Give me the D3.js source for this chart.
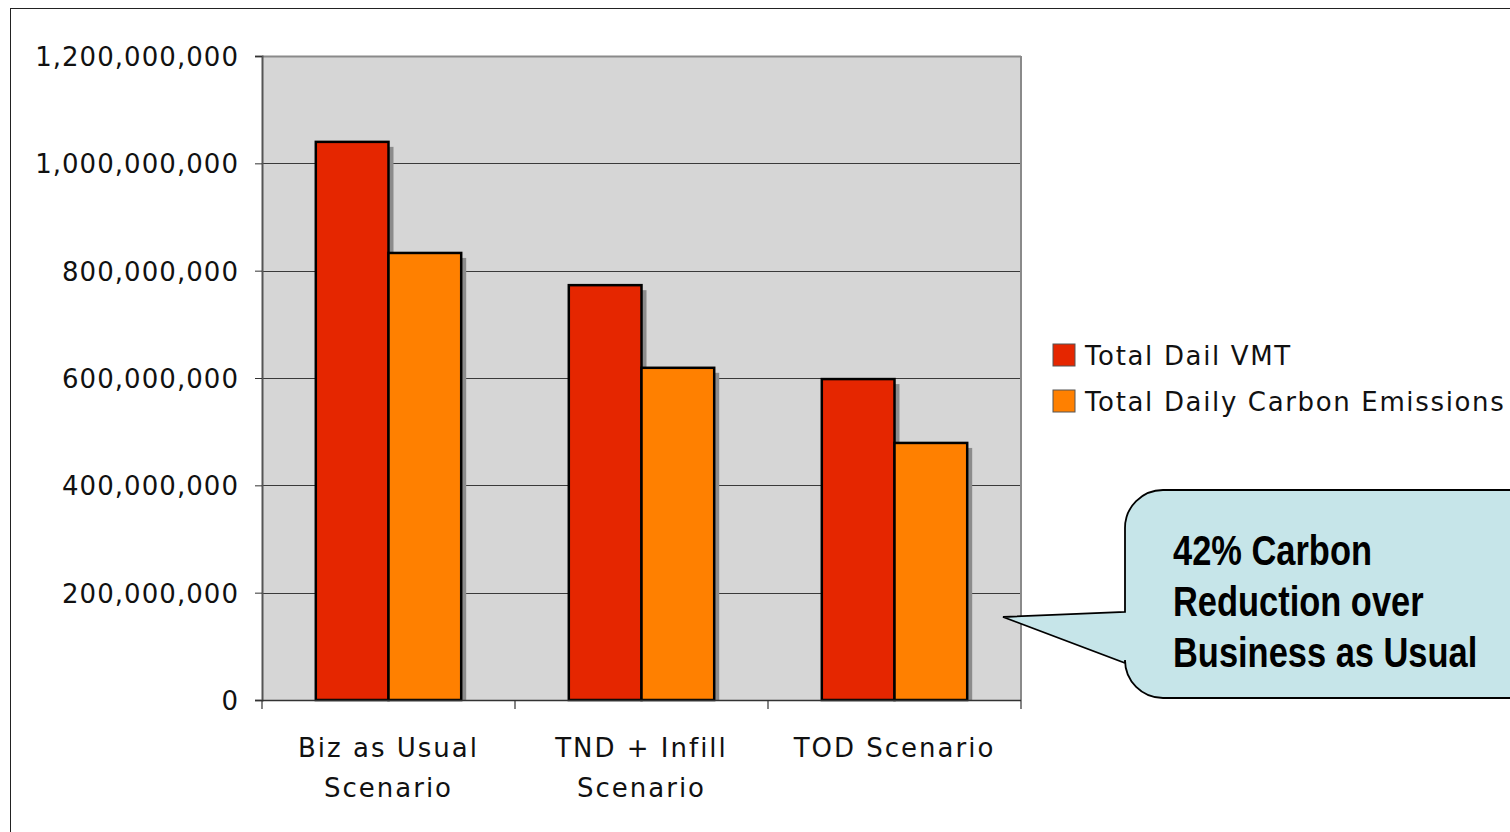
<!DOCTYPE html>
<html>
<head>
<meta charset="utf-8">
<script src="https://cdn.jsdelivr.net/npm/d3@7"></script>
<style>
  html, body { margin: 0; padding: 0; background: #fff; }
  svg { display: block; }
</style>
</head>
<body>
<svg id="chart" width="1510" height="832"></svg>
<script>
// Scenario categories and the two series per scenario
const categories = [["Biz as Usual", "Scenario"], ["TND + Infill", "Scenario"], ["TOD Scenario"]];
const seriesNames = ["Total Dail VMT", "Total Daily Carbon Emissions"];
const dailyVMT = [1040000000, 773000000, 598000000];
const dailyCarbon = [833000000, 619000000, 479000000];
const yTicks = [0, 200000000, 400000000, 600000000, 800000000, 1000000000, 1200000000];
const calloutLines = ["42% Carbon", "Reduction over", "Business as Usual"];

const seriesColors = ["#e52600", "#ff8000"];
const svg = d3.select("#chart");
const W = 1510, H = 832;
const labelFont = "DejaVu Sans, Verdana, sans-serif";

// Outer frame
svg.append("rect").attr("x", 10.5).attr("y", 8.5).attr("width", W + 10).attr("height", H + 10)
  .attr("fill", "#fff").attr("stroke", "#222").attr("stroke-width", 1);

const plot = { left: 262, right: 1021, top: 56, bottom: 700 };

const y = d3.scaleLinear().domain([0, 1200000000]).range([plot.bottom, plot.top]);
const x0 = d3.scaleBand().domain(d3.range(categories.length)).range([plot.left, plot.right]).padding(0);
const x1 = d3.scaleBand().domain(d3.range(seriesNames.length)).range([0, x0.bandwidth()])
  .paddingInner(0).paddingOuter(0.74);

// Plot background
svg.append("rect").attr("x", plot.left).attr("y", plot.top)
  .attr("width", plot.right - plot.left).attr("height", plot.bottom - plot.top)
  .attr("fill", "#d6d6d6");

// Gridlines
svg.append("g").selectAll("line").data(yTicks.filter(d => d > 0)).join("line")
  .attr("x1", plot.left).attr("x2", plot.right)
  .attr("y1", d => Math.round(y(d)) + 0.5).attr("y2", d => Math.round(y(d)) + 0.5)
  .attr("stroke", d => d === 1200000000 ? "#8a8a8a" : "#3a3a3a")
  .attr("stroke-width", d => d === 1200000000 ? 2 : 1.2);

// Right border of plot area
svg.append("line").attr("x1", plot.right).attr("x2", plot.right)
  .attr("y1", plot.top).attr("y2", plot.bottom)
  .attr("stroke", "#8a8a8a").attr("stroke-width", 2);

// Bars with drop shadows
const rows = categories.map((c, i) => [dailyVMT[i], dailyCarbon[i]]);
const groups = svg.append("g").selectAll("g").data(rows).join("g")
  .attr("transform", (d, i) => `translate(${x0(i)},0)`);

groups.selectAll("rect.shadow").data(d => d).join("rect")
  .attr("class", "shadow")
  .attr("x", (d, j) => x1(j) + 5).attr("y", d => y(d) + 5)
  .attr("width", x1.bandwidth()).attr("height", d => plot.bottom - y(d) - 5)
  .attr("fill", "#8c8c8c");

groups.selectAll("rect.bar").data(d => d).join("rect")
  .attr("class", "bar")
  .attr("x", (d, j) => x1(j)).attr("y", d => y(d))
  .attr("width", x1.bandwidth()).attr("height", d => plot.bottom - y(d))
  .attr("fill", (d, j) => seriesColors[j])
  .attr("stroke", "#000").attr("stroke-width", 2.5);

// Y axis
const fmt = d3.format(",");
const yAxis = svg.append("g").attr("transform", `translate(${plot.left},0)`)
  .call(d3.axisLeft(y).tickValues(yTicks).tickFormat(fmt).tickSize(7).tickPadding(16));
yAxis.select(".domain").attr("stroke", "#555").attr("stroke-width", 2);
yAxis.selectAll(".tick line").attr("stroke", "#333");
yAxis.selectAll(".tick text")
  .attr("font-family", labelFont).attr("font-size", 26)
  .attr("letter-spacing", "1.05px").attr("fill", "#111").attr("dy", "0.36em");

// X axis line and category boundary ticks
const bounds = d3.range(categories.length + 1).map(i => i < categories.length ? x0(i) : plot.right);
svg.append("line").attr("x1", plot.left).attr("x2", plot.right)
  .attr("y1", plot.bottom + 0.5).attr("y2", plot.bottom + 0.5)
  .attr("stroke", "#333").attr("stroke-width", 1.5);
svg.append("g").selectAll("line").data(bounds).join("line")
  .attr("x1", d => d).attr("x2", d => d)
  .attr("y1", plot.bottom).attr("y2", plot.bottom + 9)
  .attr("stroke", "#333").attr("stroke-width", 1.2);

// Category labels
const catText = svg.append("g").selectAll("text").data(categories).join("text")
  .attr("x", (d, i) => x0(i) + x0.bandwidth() / 2)
  .attr("y", 757)
  .attr("text-anchor", "middle")
  .attr("font-family", labelFont).attr("font-size", 26)
  .attr("letter-spacing", "2px").attr("fill", "#111");
catText.selectAll("tspan").data(d => d).join("tspan")
  .attr("x", function () { return d3.select(this.parentNode).attr("x"); })
  .attr("dy", (d, k) => k === 0 ? 0 : 40)
  .text(d => d);

// Legend
const legend = svg.append("g").attr("transform", "translate(1053,344)");
const li = legend.selectAll("g").data(seriesNames).join("g")
  .attr("transform", (d, i) => `translate(0,${i * 46})`);
li.append("rect").attr("width", 22).attr("height", 22)
  .attr("fill", (d, i) => seriesColors[i]).attr("stroke", "#555").attr("stroke-width", 1);
li.append("text").attr("x", 32).attr("y", 21)
  .attr("font-family", labelFont).attr("font-size", 26)
  .attr("letter-spacing", "1.65px").attr("fill", "#111")
  .text(d => d);

// Callout bubble pointing at the TOD scenario
const cb = { x0: 1125, y0: 490, x1: 1560, y1: 698, r: 38 };
const tip = { x: 1003, y: 617 };
const p = d3.path();
p.moveTo(cb.x0 + cb.r, cb.y0);
p.lineTo(cb.x1 - cb.r, cb.y0);
p.arcTo(cb.x1, cb.y0, cb.x1, cb.y0 + cb.r, cb.r);
p.lineTo(cb.x1, cb.y1 - cb.r);
p.arcTo(cb.x1, cb.y1, cb.x1 - cb.r, cb.y1, cb.r);
p.lineTo(cb.x0 + cb.r, cb.y1);
p.arcTo(cb.x0, cb.y1, cb.x0, cb.y1 - cb.r, cb.r);
p.lineTo(cb.x0, 663);
p.lineTo(tip.x, tip.y);
p.lineTo(cb.x0, 612);
p.lineTo(cb.x0, cb.y0 + cb.r);
p.arcTo(cb.x0, cb.y0, cb.x0 + cb.r, cb.y0, cb.r);
p.closePath();
svg.append("path").attr("d", p.toString())
  .attr("fill", "#c6e5e9").attr("stroke", "#000").attr("stroke-width", 1.8);

// Condensed bold callout text (narrow face emulated by horizontal scaling)
svg.append("g").attr("transform", "translate(1173,0) scale(0.82,1)")
  .selectAll("text").data(calloutLines).join("text")
  .attr("x", 0).attr("y", (d, i) => 565 + i * 51)
  .attr("font-family", "Liberation Sans, Arial, sans-serif")
  .attr("font-weight", "bold").attr("font-size", 42)
  .attr("fill", "#000")
  .text(d => d);
</script>
</body>
</html>
